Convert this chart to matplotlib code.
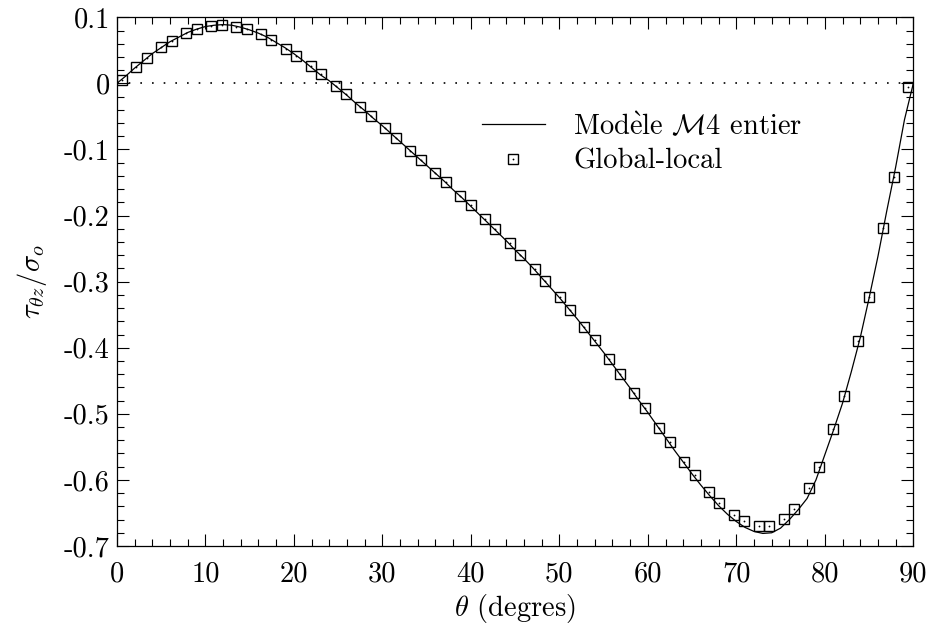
import matplotlib
matplotlib.use("Agg")
import matplotlib.pyplot as plt
from matplotlib.ticker import MultipleLocator, FixedLocator, FixedFormatter

plt.rcParams['font.family'] = ['cmr10', 'DejaVu Serif']
plt.rcParams['mathtext.fontset'] = 'cm'
plt.rcParams['axes.unicode_minus'] = False
plt.rcParams['axes.formatter.use_mathtext'] = True

# Solid line: "Modele M4 entier"
line_x = list(range(0, 91))
line_y = [0.000, 0.011, 0.023, 0.034, 0.045, 0.054, 0.063, 0.070, 0.077, 0.082,
          0.086, 0.088, 0.089, 0.088, 0.085, 0.081, 0.076, 0.070, 0.062, 0.054,
          0.045, 0.035, 0.024, 0.013, 0.004, -0.007, -0.018, -0.030, -0.041, -0.053,
          -0.064, -0.076, -0.088, -0.100, -0.112, -0.124, -0.136, -0.148, -0.161, -0.173,
          -0.186, -0.199, -0.212, -0.225, -0.238, -0.252, -0.265, -0.279, -0.294, -0.309,
          -0.324, -0.340, -0.356, -0.373, -0.390, -0.407, -0.425, -0.443, -0.461, -0.480,
          -0.498, -0.517, -0.536, -0.555, -0.573, -0.591, -0.608, -0.624, -0.639, -0.652,
          -0.663, -0.672, -0.678, -0.681, -0.680, -0.673, -0.660, -0.645, -0.628, -0.600,
          -0.562, -0.524, -0.484, -0.436, -0.385, -0.325, -0.262, -0.193, -0.127, -0.055,
          0.000]

# Square markers: "Global-local"
pts_x = [0.59, 2.22, 3.41, 5.03, 6.22, 7.84, 9.03, 10.66, 11.84, 13.47,
         14.66, 16.28, 17.47, 19.10, 20.28, 21.91, 23.09, 24.72, 25.91, 27.53,
         28.72, 30.34, 31.53, 33.16, 34.34, 35.97, 37.16, 38.78, 39.97, 41.59,
         42.78, 44.41, 45.59, 47.22, 48.41, 50.03, 51.22, 52.84, 54.03, 55.66,
         56.84, 58.47, 59.66, 61.28, 62.47, 64.09, 65.28, 66.91, 68.09, 69.72,
         70.91, 72.53, 73.72, 75.34, 76.53, 78.16, 79.34, 80.97, 82.16, 83.78,
         84.97, 86.59, 87.78, 89.41]
pts_y = [0.005, 0.0253, 0.038, 0.0546, 0.0646, 0.0758, 0.0823, 0.0868, 0.0879, 0.0858,
         0.0823, 0.0743, 0.0657, 0.0525, 0.0419, 0.0263, 0.0147, -0.0035, -0.0165, -0.0352,
         -0.0493, -0.0679, -0.0821, -0.1018, -0.1159, -0.1351, -0.1497, -0.1699, -0.1845, -0.2051,
         -0.2203, -0.2419, -0.2591, -0.2812, -0.2989, -0.3236, -0.3428, -0.369, -0.389, -0.4174,
         -0.4392, -0.4684, -0.4906, -0.521, -0.543, -0.5723, -0.5924, -0.6177, -0.6343, -0.6525,
         -0.6625, -0.6696, -0.6691, -0.659, -0.6443, -0.6126, -0.580, -0.5229, -0.4725, -0.3905,
         -0.3238, -0.219, -0.141, -0.005]

x_ticks = [0, 10, 20, 30, 40, 50, 60, 70, 80, 90]
x_labels = ['0', '10', '20', '30', '40', '50', '60', '70', '80', '90']
y_ticks = [-0.7, -0.6, -0.5, -0.4, -0.3, -0.2, -0.1, 0.0, 0.1]
y_labels = ['-0.7', '-0.6', '-0.5', '-0.4', '-0.3', '-0.2', '-0.1', '0', '0.1']

FS = 20.5

fig = plt.figure(figsize=(9.33, 6.32), dpi=100)
ax = fig.add_axes([0.1252, 0.1361, 0.8537, 0.8365])

ax.plot([0, 90], [0, 0], color='black', lw=1.2, linestyle=(0, (1, 6)))
ln, = ax.plot(line_x, line_y, color='black', lw=0.9)
sq, = ax.plot(pts_x, pts_y, linestyle='none', marker='s', markersize=6.8,
              markerfacecolor='none', markeredgecolor='black', markeredgewidth=1.0)
dt, = ax.plot(pts_x, pts_y, linestyle='none', marker='o', markersize=1.3,
              markerfacecolor='black', markeredgecolor='black', markeredgewidth=0)

ax.set_xlim(0, 90)
ax.set_ylim(-0.7, 0.1)
ax.xaxis.set_major_locator(FixedLocator(x_ticks))
ax.xaxis.set_major_formatter(FixedFormatter(x_labels))
ax.yaxis.set_major_locator(FixedLocator(y_ticks))
ax.yaxis.set_major_formatter(FixedFormatter(y_labels))
ax.xaxis.set_minor_locator(MultipleLocator(2))
ax.yaxis.set_minor_locator(MultipleLocator(0.02))
ax.tick_params(which='both', direction='in', top=True, right=True, width=0.8, labelsize=FS)
ax.tick_params(which='major', length=8.5)
ax.tick_params(axis='x', which='major', pad=11)
ax.tick_params(axis='y', which='major', pad=5)
ax.tick_params(which='minor', length=4.8)
for s in ax.spines.values():
    s.set_linewidth(0.9)

ax.set_xlabel(r'$\theta$ (degres)', fontsize=FS, labelpad=3)
ax.set_ylabel(r'$\tau_{\theta z}/\sigma_o$', fontsize=FS, labelpad=11)

ax.legend([ln, (sq, dt)], [r'Mod$\grave{\mathrm{e}}$le $\mathcal{M}\mathit{4}$ entier', 'Global-local'],
          loc='upper left', bbox_to_anchor=(0.4585, 0.8225), frameon=False,
          fontsize=FS, handlelength=2.2, handletextpad=1.0, borderpad=0,
          borderaxespad=0, labelspacing=0.3)

fig.savefig('out.png', dpi=100)
